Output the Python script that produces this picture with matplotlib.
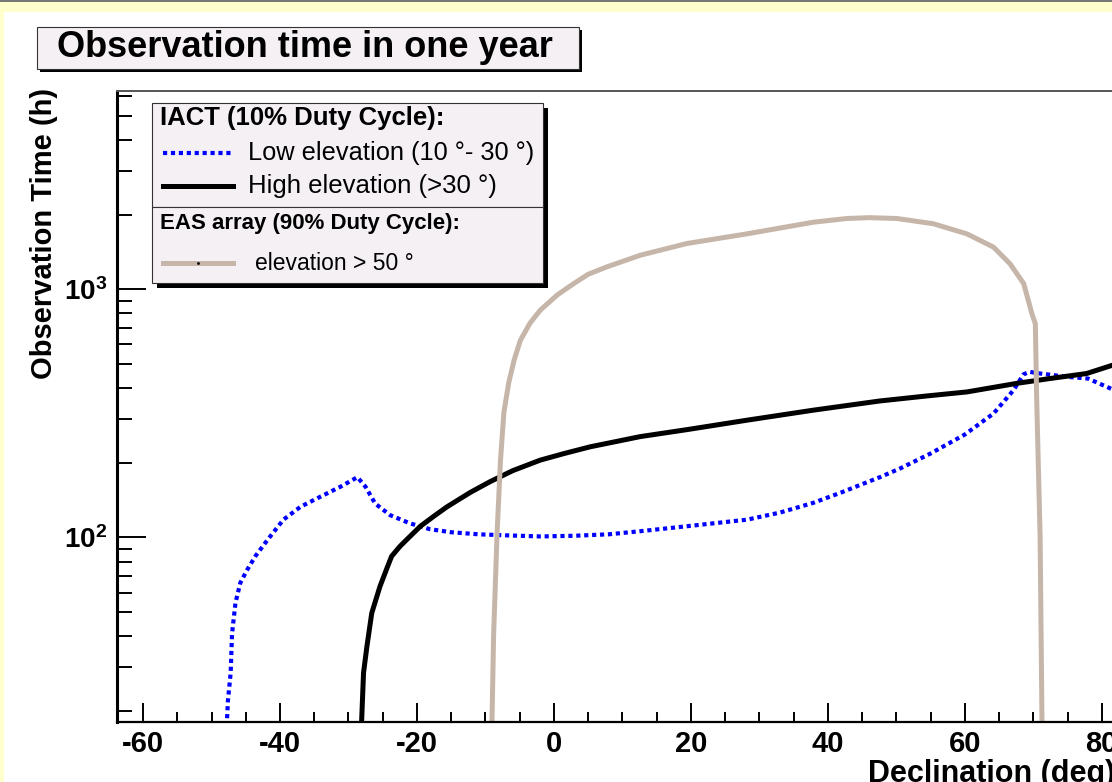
import numpy as np
import matplotlib
matplotlib.use('Agg')
import matplotlib.pyplot as plt
from matplotlib.patches import Rectangle
from matplotlib.lines import Line2D
from matplotlib.ticker import FixedLocator, FixedFormatter, LogLocator, NullFormatter

plt.rcParams['font.family'] = ['Liberation Sans', 'DejaVu Sans']
plt.rcParams['mathtext.fontset'] = 'custom'
plt.rcParams['mathtext.rm'] = 'Liberation Sans'
plt.rcParams['mathtext.bf'] = 'Liberation Sans:bold'
plt.rcParams['axes.unicode_minus'] = False

# IACT, low elevation (10-30 deg)
low_dec = [-47.9, -47.6, -47.2, -47.0, -46.5, -45.8, -44.8, -43.6, -41.8, -39.5, -37.0,
           -34.1, -31.2, -28.7, -27.5, -26.1, -23.9, -21.0, -18.1, -15.0, -11.0, -6.9,
           -2.0, 2.9, 8.0, 12.6, 19.4, 28.2, 33.0, 37.9, 42.0, 45.0, 47.6, 50.6, 55.0,
           60.0, 64.2, 67.1, 68.6, 69.5, 71.0, 75.0, 78.0, 80.7, 83.0, 85.0]
low_obs = [15, 22, 28.5, 41, 54.5, 65.6, 74, 84, 98, 118, 133,
           146, 160, 175, 160, 137, 123, 114, 108, 105, 103, 102,
           101, 101.6, 103, 106, 111, 118, 126, 138, 152, 164, 175, 190, 218,
           260, 316, 392, 455, 465, 458, 444, 437, 405, 380, 360]

# IACT, high elevation (>30 deg)
high_dec = [-28.2, -27.8, -27.3, -26.6, -25.4, -24.4, -23.7, -22.5, -21.5, -19.5, -17.5,
            -15.6, -12.2, -9.3, -6.0, -2.0, 1.5, 5.3, 12.6, 19.4, 28.2, 37.9, 47.6,
            54.5, 60.3, 67.6, 72.4, 77.8, 81.5, 85.0]
high_obs = [15, 28.5, 36.5, 49.6, 63.5, 75, 84, 92, 98, 111, 122,
            133, 152, 168, 186, 205, 218, 232, 255, 272, 297, 326, 355,
            372, 386, 418, 437, 458, 494, 520]

# EAS array, elevation > 50 deg
eas_dec = [-9.1, -8.8, -8.3, -7.8, -7.3, -6.6, -5.8, -4.9, -3.5, -2.0, 0.5, 2.9, 5.0,
           7.7, 12.6, 19.4, 28.2, 37.9, 42.8, 46.0, 50.1, 55.4, 60.3, 64.2, 66.6,
           68.6, 69.8, 70.3, 70.5, 71.0, 71.3]
eas_obs = [15, 41, 104, 205, 320, 420, 520, 623, 730, 824, 950, 1055, 1150,
           1231, 1372, 1530, 1674, 1865, 1930, 1945, 1930, 1838, 1674, 1479, 1268,
           1055, 798, 727, 358, 100, 15]

x_ticks = [-60, -40, -20, 0, 20, 40, 60, 80]
y_ticks = [100, 1000]
y_tick_labels = [r'$\mathbf{10^{2}}$', r'$\mathbf{10^{3}}$']

W, H = 1112, 782
BLUE = '#0000ff'
TAUPE = '#c6b6aa'
PANE = '#f4f0f4'


def fx(px):
    return px / W


def fy(py):
    return 1 - py / H


def shadow_box(fig, x0, y0, x1, y1, off, z):
    # box given in pixel coords (y downward) with a ROOT style shadow
    fig.add_artist(Rectangle((fx(x0 + off), fy(y1 + off)), (x1 - x0) / W, (y1 - y0) / H,
                             transform=fig.transFigure, facecolor='black',
                             edgecolor='none', zorder=z))
    fig.add_artist(Rectangle((fx(x0), fy(y1)), (x1 - x0) / W, (y1 - y0) / H,
                             transform=fig.transFigure, facecolor=PANE,
                             edgecolor='#333333', lw=0.8, zorder=z + 0.1))


fig = plt.figure(figsize=(W / 100, H / 100), dpi=100)
fig.patch.set_facecolor('white')

# canvas border
fig.add_artist(Rectangle((0, fy(12)), 1, 12 / H, transform=fig.transFigure,
                         facecolor='#ffffcc', edgecolor='none', zorder=0.2))
fig.add_artist(Rectangle((0, 0), fx(4), 1, transform=fig.transFigure,
                         facecolor='#ffffcc', edgecolor='none', zorder=0.2))
fig.add_artist(Rectangle((0, fy(1.5)), 1, 1.5 / H, transform=fig.transFigure,
                         facecolor='#777777', edgecolor='none', zorder=0.3))

ax = fig.add_axes([fx(117), fy(721.7), (1136 - 117) / W, (721.7 - 91) / H])
ax.set_yscale('log')
ax.set_xlim(-63.8, 85)
ax.set_ylim(18.1, 6300)

ax.plot(low_dec, low_obs, color=BLUE, lw=3.0, linestyle=(0, (1, 0.9)),
        dash_capstyle='butt', solid_capstyle='butt')
ax.plot(high_dec, high_obs, color='black', lw=3.6)
ax.plot(eas_dec, eas_obs, color=TAUPE, lw=3.6)

ax.xaxis.set_major_locator(FixedLocator(x_ticks))
ax.xaxis.set_minor_locator(FixedLocator(np.arange(-60, 86, 5)))
ax.yaxis.set_major_locator(FixedLocator(y_ticks))
ax.yaxis.set_major_formatter(FixedFormatter(y_tick_labels))
ax.yaxis.set_minor_locator(LogLocator(base=10, subs=np.arange(2, 10)))
ax.yaxis.set_minor_formatter(NullFormatter())

ax.tick_params(axis='x', which='major', direction='in', length=14, width=1.4,
               labelsize=21, pad=6)
ax.tick_params(axis='x', which='minor', direction='in', length=7, width=1.4)
ax.tick_params(axis='y', which='major', direction='in', length=21, width=1.4,
               labelsize=20, pad=7)
ax.tick_params(axis='y', which='minor', direction='in', length=11, width=1.4)
for lab in ax.get_xticklabels():
    lab.set_fontweight('bold')

ax.spines['left'].set_linewidth(2.2)
ax.spines['bottom'].set_linewidth(1.6)
ax.spines['top'].set_linewidth(1.4)
ax.spines['top'].set_color('#555555')
ax.spines['right'].set_visible(False)

ax.set_xlabel('Declination (deg)', fontsize=22, fontweight='bold', loc='left')
ax.xaxis.set_label_coords((868 - 117) / 1019, -0.059)
ax.set_ylabel('Observation Time (h)', fontsize=21, fontweight='bold', loc='top')
ax.yaxis.set_label_coords(-0.058, 1.005)

# title pane
shadow_box(fig, 37, 27, 579, 69, 3, 5)
fig.text(fx(305), fy(47.5), 'Observation time in one year', fontsize=26,
         fontweight='bold', ha='center', va='center', zorder=6)

# legend panes
shadow_box(fig, 152, 103, 543, 207, 5, 5)
shadow_box(fig, 152, 207, 543, 283, 5, 5.5)

fig.text(fx(160), fy(118), 'IACT (10% Duty Cycle):', fontsize=18.5,
         fontweight='bold', ha='left', va='center', zorder=7)
fig.add_artist(Line2D([fx(163), fx(233)], [fy(153), fy(153)], transform=fig.transFigure,
                      color=BLUE, lw=3.0, linestyle=(0, (1, 0.9)),
                      dash_capstyle='butt', zorder=7))
fig.text(fx(248), fy(153), 'Low elevation (10 \u00b0- 30 \u00b0)', fontsize=18.3,
         ha='left', va='center', zorder=7)
fig.add_artist(Line2D([fx(163), fx(233)], [fy(186), fy(186)], transform=fig.transFigure,
                      color='black', lw=3.6, zorder=7))
fig.text(fx(248), fy(186), 'High elevation (>30 \u00b0)', fontsize=18.5,
         ha='left', va='center', zorder=7)

fig.text(fx(160), fy(223), 'EAS array (90% Duty Cycle):', fontsize=16,
         fontweight='bold', ha='left', va='center', zorder=7)
fig.add_artist(Line2D([fx(163), fx(233)], [fy(263), fy(263)], transform=fig.transFigure,
                      color=TAUPE, lw=3.6, zorder=7))
fig.add_artist(Line2D([fx(198)], [fy(263)], transform=fig.transFigure, marker='.',
                      markersize=2, color='black', zorder=7.1))
fig.text(fx(255), fy(263), 'elevation > 50 \u00b0', fontsize=16.5,
         ha='left', va='center', zorder=7)

fig.savefig('out.png', dpi=100)
